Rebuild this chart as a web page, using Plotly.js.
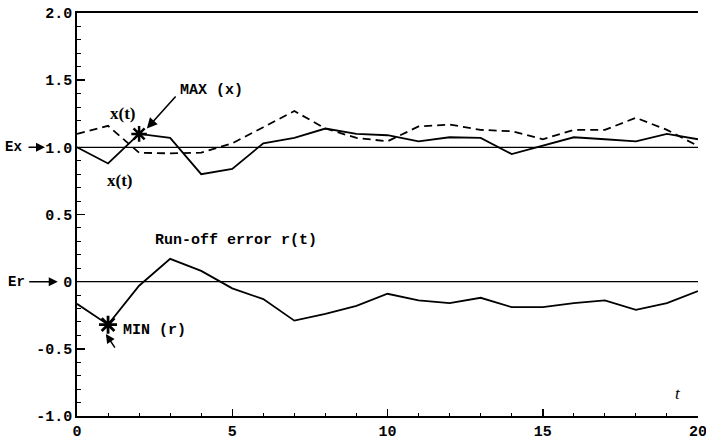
<!DOCTYPE html>
<html>
<head>
<meta charset="utf-8">
<script src="https://cdn.plot.ly/plotly-3.0.1.min.js"></script>
<style>html,body{margin:0;padding:0;background:#fff;}#chart{width:706px;height:443px;}</style>
</head>
<body>
<div id="chart"></div>
<script>
// Time steps
const t = [0,1,2,3,4,5,6,7,8,9,10,11,12,13,14,15,16,17,18,19,20];
// x(t) solid curve
const xSolid = [1.00,0.88,1.10,1.07,0.80,0.84,1.03,1.07,1.14,1.10,1.09,1.045,1.075,1.07,0.95,1.01,1.075,1.06,1.045,1.10,1.06];
// x(t) dashed curve
const xDashed = [1.10,1.16,0.96,0.955,0.96,1.03,1.15,1.27,1.14,1.07,1.045,1.155,1.17,1.13,1.12,1.06,1.13,1.13,1.22,1.13,1.01];
// run-off error r(t)
const rErr = [-0.165,-0.32,-0.03,0.17,0.08,-0.05,-0.13,-0.29,-0.24,-0.18,-0.09,-0.14,-0.16,-0.12,-0.19,-0.19,-0.16,-0.14,-0.21,-0.16,-0.07];
// special points
const maxPt = {t:[2], v:[1.10]};
const minPt = {t:[1], v:[-0.32]};
// reference levels
const Ex = 1.0, Er = 0.0;
// tick labels
const yTickVals = [2.0,1.5,1.0,0.5,0,-0.5,-1.0];
const yTickText = ["2.0","1.5","1.0","0.5","0","-0.5","-1.0"];
const xTickVals = [0,5,10,15,20];
const xTickText = ["0","5","10","15","20"];

const mono = "Liberation Mono, Courier New, monospace";
const serif = "Liberation Serif, Times New Roman, serif";

const traces = [
  {x:t, y:xSolid, mode:'lines', line:{color:'#000', width:1.8}, hoverinfo:'skip'},
  {x:t, y:xDashed, mode:'lines', line:{color:'#000', width:1.8, dash:'8px,5px'}, hoverinfo:'skip'},
  {x:t, y:rErr, mode:'lines', line:{color:'#000', width:1.8}, hoverinfo:'skip'},
  {x:maxPt.t, y:maxPt.v, mode:'markers', marker:{symbol:'asterisk-open', size:13, color:'#000', line:{color:'#000', width:2.5}}},
  {x:minPt.t, y:minPt.v, mode:'markers', marker:{symbol:'asterisk-open', size:15, color:'#000', line:{color:'#000', width:2.8}}}
];

const layout = {
  width:706, height:443,
  margin:{l:77, r:8, t:13, b:27},
  paper_bgcolor:'#fff', plot_bgcolor:'#fff',
  showlegend:false,
  xaxis:{
    range:[0,20], showgrid:false, zeroline:false,
    showline:true, linecolor:'#000', linewidth:1.8, mirror:true,
    ticks:'inside', ticklen:7, tickwidth:1.5, tickcolor:'#000',
    tickvals:xTickVals, ticktext:xTickText, ticklabeloverflow:'allow',
    tickfont:{family:mono, size:15, color:'#000', weight:'bold'},
    minor:{dtick:1, ticks:'inside', ticklen:3, tickwidth:1, tickcolor:'#000'}
  },
  yaxis:{
    range:[-1,2], showgrid:false, zeroline:false,
    showline:true, linecolor:'#000', linewidth:1.8,
    ticks:'inside', ticklen:8, tickwidth:1.5, tickcolor:'#000',
    tickvals:yTickVals, ticktext:yTickText,
    tickfont:{family:mono, size:15, color:'#000', weight:'bold'},
    minor:{dtick:0.1, ticks:'inside', ticklen:4, tickwidth:1, tickcolor:'#000'}
  },
  shapes:[
    {type:'line', xref:'x', yref:'y', x0:t[0], x1:t[t.length-1], y0:Ex, y1:Ex, line:{color:'#000', width:1.3}},
    {type:'line', xref:'x', yref:'y', x0:t[0], x1:t[t.length-1], y0:Er, y1:Er, line:{color:'#000', width:1.3}}
  ],
  annotations:[
    {text:'MAX (x)', x:4.32, y:1.42, xref:'x', yref:'y', showarrow:false, font:{family:mono, size:15, color:'#000', weight:'bold'}},
    {text:'', x:2.25, y:1.14, xref:'x', yref:'y', ax:3.22, ay:1.39, axref:'x', ayref:'y', showarrow:true, arrowhead:2, arrowsize:1.3, arrowwidth:1.6, arrowcolor:'#000'},
    {text:'x(t)', x:1.45, y:1.25, xref:'x', yref:'y', showarrow:false, font:{family:serif, size:17, color:'#000', weight:'bold'}},
    {text:'x(t)', x:1.38, y:0.755, xref:'x', yref:'y', showarrow:false, font:{family:serif, size:17, color:'#000', weight:'bold'}},
    {text:'Run-off error r(t)', x:5.13, y:0.305, xref:'x', yref:'y', showarrow:false, font:{family:mono, size:15, color:'#000', weight:'bold'}},
    {text:'MIN (r)', x:2.49, y:-0.365, xref:'x', yref:'y', showarrow:false, font:{family:mono, size:15, color:'#000', weight:'bold'}},
    {text:'', x:0.93, y:-0.39, xref:'x', yref:'y', ax:10, ay:15, showarrow:true, arrowhead:2, arrowsize:1.2, arrowwidth:1.5, arrowcolor:'#000'},
    {text:'<i>t</i>', x:19.35, y:-0.83, xref:'x', yref:'y', showarrow:false, font:{family:serif, size:17, color:'#000'}},
    {text:'Ex', x:-0.119, y:Ex, xref:'paper', yref:'y', xanchor:'left', showarrow:false, font:{family:mono, size:14, color:'#000', weight:'bold'}},
    {text:'', x:-0.0515, y:Ex, xref:'paper', yref:'y', ax:-18, ay:0, showarrow:true, arrowhead:2, arrowsize:1.2, arrowwidth:1.5, arrowcolor:'#000'},
    {text:'Er', x:-0.114, y:Er, xref:'paper', yref:'y', xanchor:'left', showarrow:false, font:{family:mono, size:14, color:'#000', weight:'bold'}},
    {text:'', x:-0.031, y:Er, xref:'paper', yref:'y', ax:-30, ay:0, showarrow:true, arrowhead:2, arrowsize:1.2, arrowwidth:1.5, arrowcolor:'#000'}
  ]
};

Plotly.newPlot('chart', traces, layout, {staticPlot:true, displayModeBar:false});
</script>
</body>
</html>
